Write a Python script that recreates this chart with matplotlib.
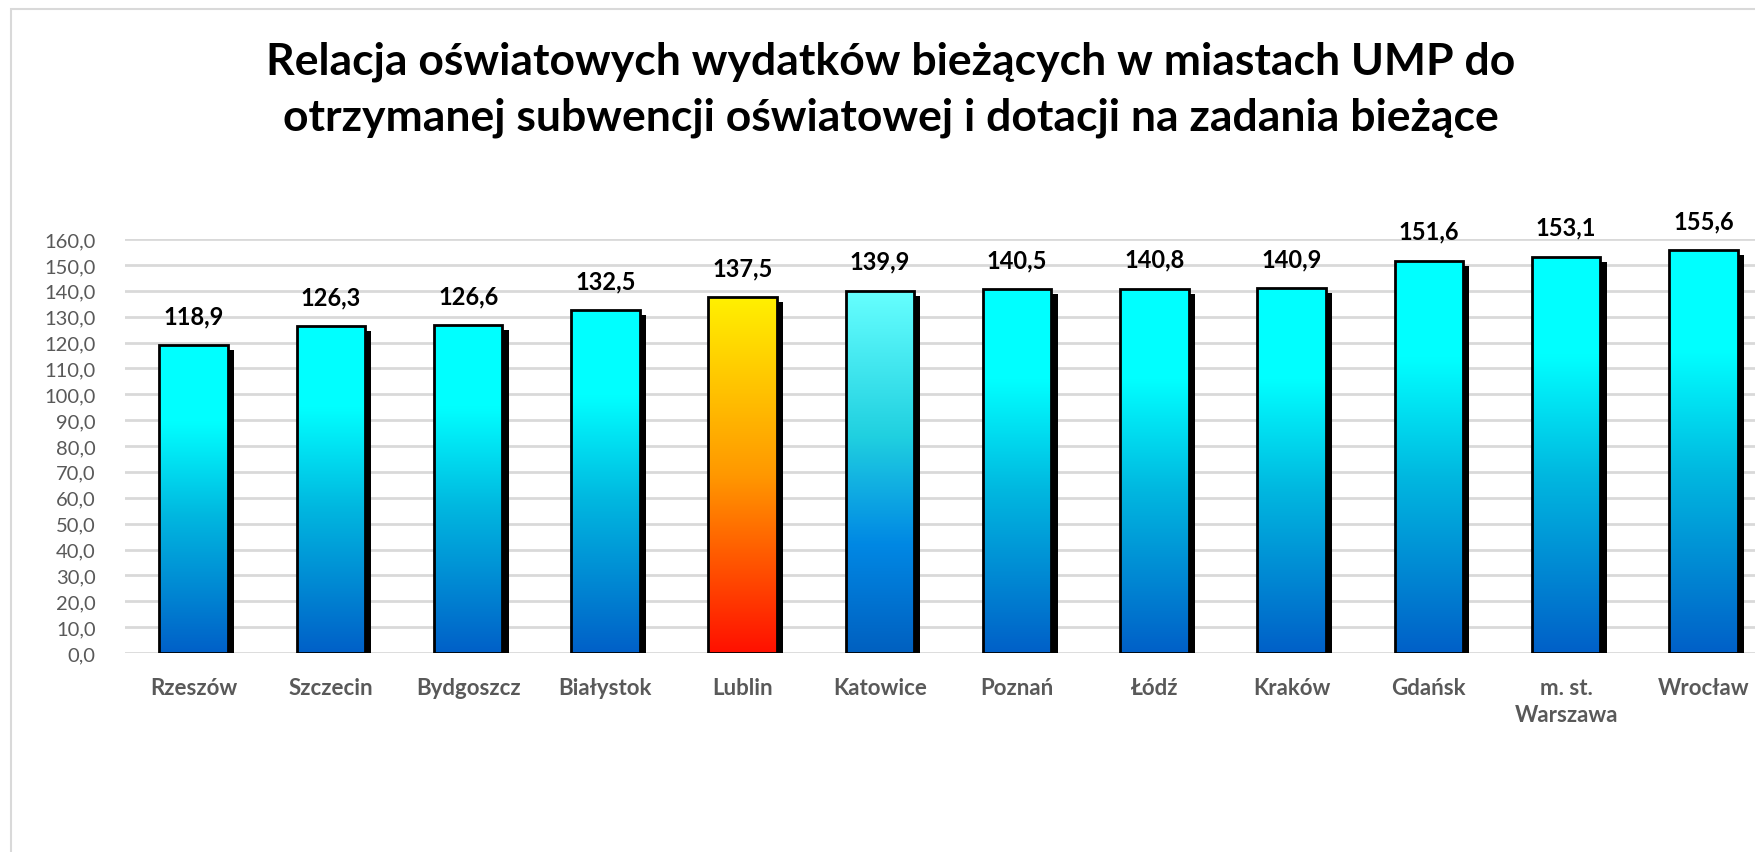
import matplotlib.pyplot as plt
import matplotlib.patheffects as pe
from matplotlib.colors import LinearSegmentedColormap
from matplotlib.patches import Rectangle
import numpy as np

plt.rcParams['font.family'] = ['Lato', 'DejaVu Sans']

# data
cities = ['Rzeszów', 'Szczecin', 'Bydgoszcz', 'Białystok', 'Lublin', 'Katowice',
          'Poznań', 'Łódź', 'Kraków', 'Gdańsk', 'm. st.\nWarszawa', 'Wrocław']
values = [118.9, 126.3, 126.6, 132.5, 137.5, 139.9, 140.5, 140.8, 140.9, 151.6, 153.1, 155.6]
highlight = 'Lublin'
special = 'Katowice'

# gradients, listed bottom -> top
blue = LinearSegmentedColormap.from_list('blue', [(0, '#0060C8'), (0.45, '#00B8E0'),
                                                  (0.75, '#00FFFF'), (1, '#00FFFF')])
kato = LinearSegmentedColormap.from_list('kato', [(0, '#0060C0'), (0.3, '#0088E4'),
                                                  (0.6, '#20D0E0'), (1, '#66FFFF')])
fire = LinearSegmentedColormap.from_list('fire', [(0, '#FF1000'), (0.5, '#FF9800'),
                                                  (1, '#FFF000')])

W, H = 1756, 853
fig = plt.figure(figsize=(W / 100, H / 100), dpi=100)
fig.patches.append(Rectangle((11 / W, -0.1), 1.2, 1.1 - 10 / H, transform=fig.transFigure,
                             fill=False, edgecolor='#d9d9d9', linewidth=1.5))

ax = fig.add_axes([125 / W, (H - 654) / H, 1 - 125 / W, 414 / H])
x = np.arange(len(cities))
ax.set_yticks(np.arange(0, 161, 10))
ax.set_yticklabels([f'{v:.1f}'.replace('.', ',') for v in np.arange(0, 161, 10)])
ax.yaxis.grid(True, color='#d9d9d9', linewidth=2)
ax.set_axisbelow(True)
for s in ax.spines.values():
    s.set_visible(False)
ax.tick_params(axis='y', length=0, pad=21, labelsize=14.5, labelcolor='#595959')
ax.tick_params(axis='x', length=0, pad=17, labelsize=16, labelcolor='#595959')
ax.set_xticks(x)
ax.set_xticklabels(cities, fontweight='bold', linespacing=1.4, va='top')

grad = np.linspace(0, 1, 256).reshape(-1, 1)
bars = ax.bar(x, values, width=0.5, facecolor='white', edgecolor='none', zorder=2,
              path_effects=[pe.SimplePatchShadow(offset=(4.5, -3.5), shadow_rgbFace='black', alpha=1),
                            pe.Normal()])
for b, name, v in zip(bars, cities, values):
    cmap = fire if name == highlight else kato if name == special else blue
    x0 = b.get_x()
    im = ax.imshow(grad, cmap=cmap, origin='lower', aspect='auto',
                   extent=[x0, x0 + b.get_width(), 0, v], zorder=3)
    im.set_clip_path(b)
    ax.add_patch(Rectangle((x0, 0), b.get_width(), v, fill=False, edgecolor='black',
                           linewidth=2, zorder=4))
    ax.text(x0 + b.get_width() / 2, v + 7, f'{v:.1f}'.replace('.', ','), ha='center', va='bottom',
            fontsize=17, fontweight='bold', color='black')
ax.set_xlim(-0.5, 11.5 - 16 / 137.3)
ax.set_ylim(0, 160)

fig.text(891 / W, 1 - 75 / H, 'Relacja oświatowych wydatków bieżących w miastach UMP do',
         ha='center', va='baseline', fontsize=32, fontweight='bold')
fig.text(891 / W, 1 - 131 / H, 'otrzymanej subwencji oświatowej i dotacji na zadania bieżące',
         ha='center', va='baseline', fontsize=32, fontweight='bold')

fig.savefig('out.png', dpi=100)
plt.close(fig)
